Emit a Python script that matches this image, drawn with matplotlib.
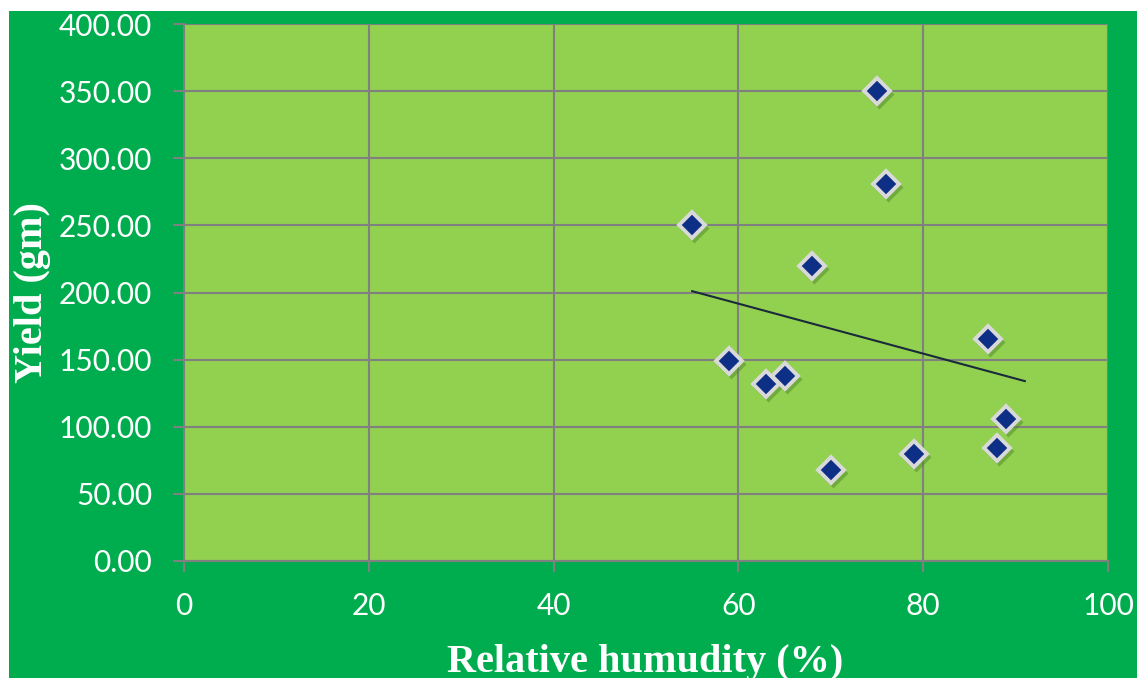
import matplotlib.pyplot as plt
import matplotlib.transforms as mtransforms
from matplotlib.patches import Rectangle

# relative humidity (%) and yield (gm)
humidity = [55, 75, 76, 68, 87, 59, 63, 65, 89, 88, 79, 70]
yield_gm = [250, 350, 281, 220, 165, 149, 132, 138, 106, 84, 80, 68]

# linear trend line as drawn in the chart
trend_x = [55, 91]
trend_y = [201, 134]

x_ticks = [0, 20, 40, 60, 80, 100]
y_ticks = [0, 50, 100, 150, 200, 250, 300, 350, 400]

W, H = 1147, 681
fig = plt.figure(figsize=(W / 100, H / 100), dpi=100, facecolor='white')

# dark green chart background with a thin white margin
fig.patches.append(Rectangle((9 / W, 1 - 678 / H), (1137 - 9) / W, (678 - 11) / H,
                             transform=fig.transFigure, facecolor='#00AD4E',
                             edgecolor='none', zorder=-10))

ax = fig.add_axes([184 / W, 1 - 561 / H, (1108 - 184) / W, (561 - 24) / H])
ax.set_facecolor('#92D050')
ax.set_xlim(0, 100)
ax.set_ylim(0, 400)
ax.set_xticks(x_ticks)
ax.set_yticks(y_ticks)
ax.set_yticklabels(['{:.2f}'.format(v) for v in y_ticks])
ax.grid(True, color='#808080', linewidth=1.5)
ax.set_axisbelow(True)
for side in ['top', 'right']:
    ax.spines[side].set_visible(False)
for side in ['left', 'bottom']:
    ax.spines[side].set_color('#808080')
    ax.spines[side].set_linewidth(1.5)
ax.tick_params(direction='out', length=8, width=1.5, color='#808080',
               labelcolor='white', labelsize=21.5)
ax.tick_params(axis='y', pad=15)
ax.tick_params(axis='x', pad=14)
for lab in ax.get_xticklabels() + ax.get_yticklabels():
    lab.set_family('Lato')

ax.plot(trend_x, trend_y, color='#1a2a3a', linewidth=1.5, zorder=3)

# soft shadow under the markers
shadow = mtransforms.offset_copy(ax.transData, fig=fig, x=2, y=-3, units='dots')
ax.plot(humidity, yield_gm, 'D', ms=15, color='#4f8a2a', alpha=0.5,
        mec='none', linestyle='none', transform=shadow, zorder=4)
ax.plot(humidity, yield_gm, 'D', ms=13.5, color='#0d2f86', mec='#d9d9d9',
        mew=2.8, linestyle='none', zorder=5)

fig.text(645 / W, 1 - 672 / H, 'Relative humudity (%)', ha='center', va='baseline',
         color='white', fontsize=29, fontweight='bold', family='Liberation Serif')
fig.text(42 / W, 1 - 293 / H, 'Yield (gm)', ha='center', va='baseline', rotation=90,
         rotation_mode='anchor', color='white', fontsize=29, fontweight='bold',
         family='Liberation Serif')

# white strip at the bottom clips the axis title like the original
fig.patches.append(Rectangle((0, 0), 1, 3 / H, transform=fig.transFigure,
                             facecolor='white', edgecolor='none', zorder=20))

fig.savefig('out.png', dpi=100, facecolor='white')
